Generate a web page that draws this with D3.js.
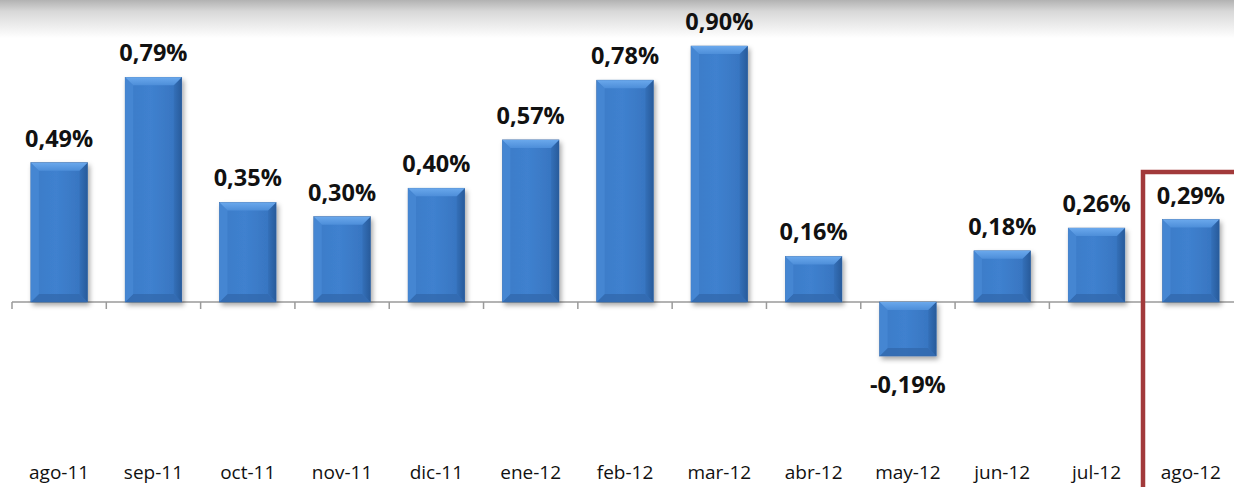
<!DOCTYPE html>
<html><head><meta charset="utf-8">
<script src="https://cdn.jsdelivr.net/npm/d3@7"></script>
<style>html,body{margin:0;padding:0;background:#fff;}svg{display:block;}</style>
</head><body>
<svg id="c" width="1234" height="487"></svg>
<script>
const categories = ["ago-11","sep-11","oct-11","nov-11","dic-11","ene-12","feb-12","mar-12","abr-12","may-12","jun-12","jul-12","ago-12"];
const values = [0.49,0.79,0.35,0.30,0.40,0.57,0.78,0.90,0.16,-0.19,0.18,0.26,0.29];
const valueLabels = ["0,49%","0,79%","0,35%","0,30%","0,40%","0,57%","0,78%","0,90%","0,16%","-0,19%","0,18%","0,26%","0,29%"];

const W = 1234, H = 487;
const svg = d3.select("#c");
const defs = svg.append("defs");

// top grey fade
const tg = defs.append("linearGradient").attr("id","topg").attr("x1",0).attr("x2",0).attr("y1",0).attr("y2",1);
tg.append("stop").attr("offset","0%").attr("stop-color","#b2b2b2");
tg.append("stop").attr("offset","30%").attr("stop-color","#d8d8d8");
tg.append("stop").attr("offset","100%").attr("stop-color","#ffffff");
svg.append("rect").attr("x",0).attr("y",0).attr("width",W).attr("height",38).attr("fill","url(#topg)");

// bar gradient
const bg = defs.append("linearGradient").attr("id","barg").attr("x1",0).attr("x2",1).attr("y1",0).attr("y2",0);
bg.append("stop").attr("offset","0%").attr("stop-color","#3c7bc7");
bg.append("stop").attr("offset","45%").attr("stop-color","#3f81cf");
bg.append("stop").attr("offset","100%").attr("stop-color","#3672bd");
const tb = defs.append("linearGradient").attr("id","topb").attr("x1",0).attr("x2",0).attr("y1",0).attr("y2",1);
tb.append("stop").attr("offset","0%").attr("stop-color","#6aa8ec");
tb.append("stop").attr("offset","100%").attr("stop-color","#4d8ed9");
const rb = defs.append("linearGradient").attr("id","rightb").attr("x1",0).attr("x2",1).attr("y1",0).attr("y2",0);
rb.append("stop").attr("offset","0%").attr("stop-color","#3470b9");
rb.append("stop").attr("offset","100%").attr("stop-color","#285b9b");
const sh = defs.append("filter").attr("id","shadow").attr("x","-20%").attr("y","-20%").attr("width","140%").attr("height","140%");
sh.append("feDropShadow").attr("dx",2).attr("dy",3).attr("stdDeviation",2.5).attr("flood-color","#000").attr("flood-opacity",0.35);

const x = d3.scaleBand().domain(categories).range([12, 1238]).paddingInner(0.4).paddingOuter(0.2);
const y = d3.scaleLinear().domain([-0.19, 0.90]).range([302 + 0.19*284.4, 302 - 0.90*284.4]);

// axis
const axisG = svg.append("g").attr("transform",`translate(0,${y(0)})`);
axisG.append("line").attr("x1",12).attr("x2",W).attr("stroke","#9a9a9a").attr("stroke-width",1.5);
const step = x.step();
const bounds = d3.range(categories.length).map(i => 12 + i*step);
axisG.selectAll("line.tk").data(bounds).join("line").attr("class","tk")
  .attr("x1",d=>d).attr("x2",d=>d).attr("y1",0).attr("y2",7).attr("stroke","#9a9a9a").attr("stroke-width",1.5);

// bars
const bars = svg.append("g").selectAll("g").data(values).join("g");
bars.each(function(v,i){
  const g = d3.select(this);
  const x0 = x(categories[i]), bw = x.bandwidth();
  const yt = Math.min(y(v), y(0)), yb = Math.max(y(v), y(0));
  const h = yb - yt;
  g.append("rect").attr("x",x0).attr("y",yt).attr("width",bw).attr("height",h)
    .attr("fill","url(#barg)").attr("stroke","#3a6aa6").attr("stroke-width",0.6).attr("filter","url(#shadow)");
  const b = Math.min(8, h/2);
  g.append("path").attr("d",`M${x0},${yb} L${x0+bw},${yb} L${x0+bw-b},${yb-b} L${x0+b},${yb-b} Z`).attr("fill","#3269ae").attr("opacity",0.8);
  g.append("path").attr("d",`M${x0+bw},${yt} L${x0+bw},${yb} L${x0+bw-b},${yb-b} L${x0+bw-b},${yt+b} Z`).attr("fill","url(#rightb)");
  g.append("path").attr("d",`M${x0},${yt} L${x0},${yb} L${x0+b},${yb-b} L${x0+b},${yt+b} Z`).attr("fill","#4586d2");
  g.append("path").attr("d",`M${x0},${yt} L${x0+bw},${yt} L${x0+bw-b},${yt+b} L${x0+b},${yt+b} Z`).attr("fill","url(#topb)");
});

// value labels
svg.append("g").selectAll("text").data(values).join("text")
  .attr("x",(d,i)=>x(categories[i]) + x.bandwidth()/2)
  .attr("y",d=> d>=0 ? y(d) - 16 : y(d) + 37)
  .attr("text-anchor","middle")
  .attr("font-family","'Open Sans', sans-serif").attr("font-weight","bold").attr("font-size",23.5)
  .attr("fill","#111")
  .text((d,i)=>valueLabels[i]);

// category labels
svg.append("g").selectAll("text").data(categories).join("text")
  .attr("x",d=>x(d) + x.bandwidth()/2).attr("y",479)
  .attr("text-anchor","middle")
  .attr("font-family","'Open Sans', sans-serif").attr("font-size",19)
  .attr("fill","#111").text(d=>d);

// highlight box
svg.append("path").attr("d",`M1143,${H} L1143,172 L${W+5},172`).attr("fill","none")
  .attr("stroke","#a23a3b").attr("stroke-width",4.5);
</script>
</body></html>
